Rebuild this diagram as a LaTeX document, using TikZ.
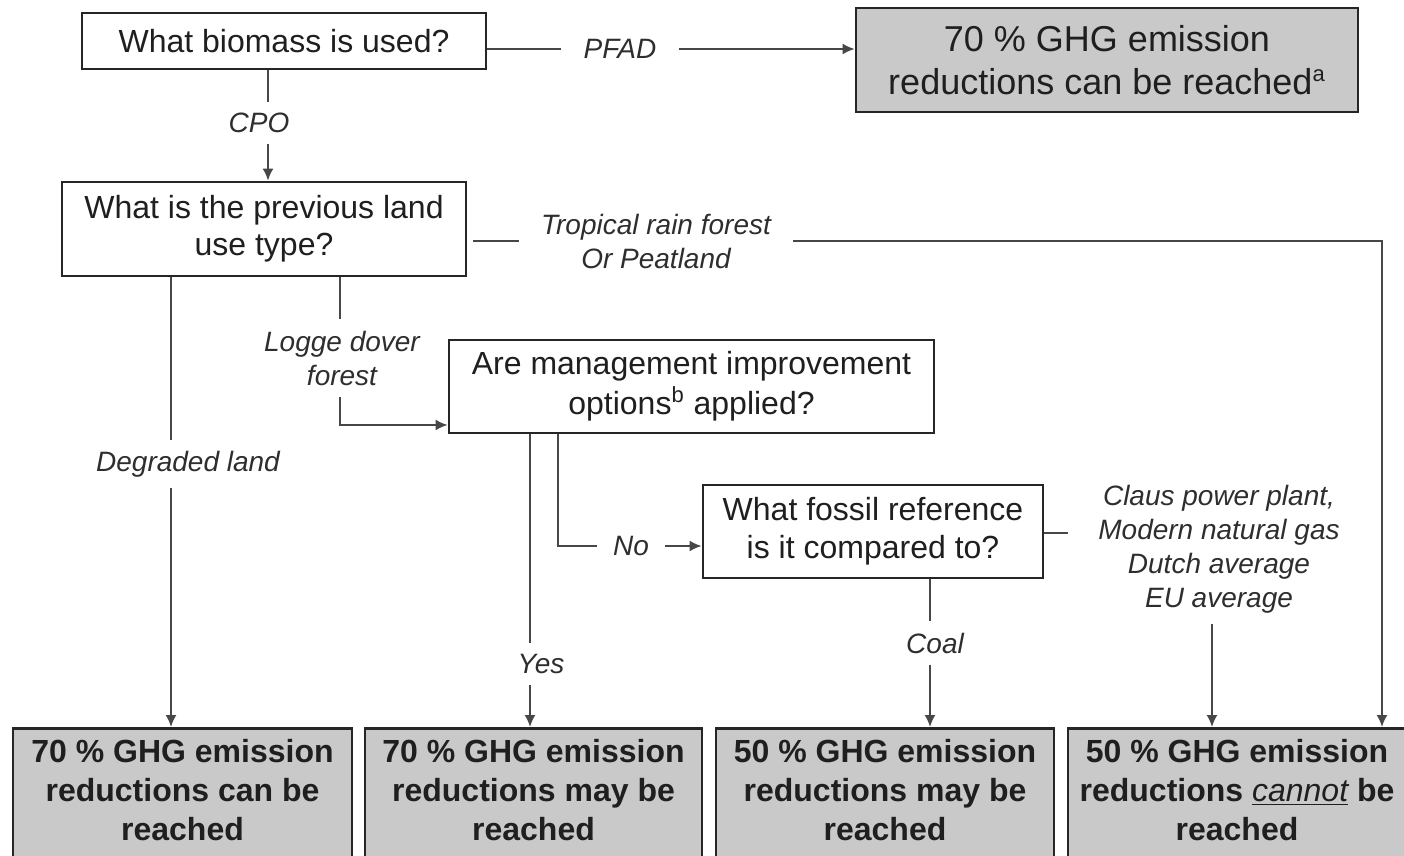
\documentclass[tikz,border=0pt]{standalone}
\usepackage{fontspec}
\setmainfont{Liberation Sans}
\usetikzlibrary{arrows.meta}
\newcommand{\supsc}[1]{\textsuperscript{\fontsize{11}{11}\selectfont #1}}
\begin{document}
\begin{tikzpicture}[x=0.5pt,y=-0.5pt,
  qbox/.style={draw=black!85, line width=1.4pt, fill=white, align=center, inner sep=0pt, font=\fontsize{16}{19}\selectfont, text=black!88},
  rbox/.style={draw=black!85, line width=1.4pt, fill=gray!42, inner sep=0pt},
  endtxt/.style={align=center, font=\fontsize{16}{19.3}\selectfont\bfseries, text=black!88},
  lab/.style={align=center, font=\fontsize{14}{17}\selectfont\itshape, text=black!82, inner xsep=11pt, inner ysep=5.5pt},
  conn/.style={draw=black!72, line width=0.9pt},
  arr/.style={conn, -{Latex[length=6pt,width=5.5pt]}},
]
\useasboundingbox (0,0) rectangle (1404,856);
\clip (0,0) rectangle (1404,856);

% question boxes
\node[qbox, minimum width=202pt, minimum height=28pt] (b1) at (284,41) {What biomass is used?};
\node[qbox, fill=gray!42, minimum width=251pt, minimum height=52pt, font=\fontsize{18}{21.5}\selectfont] (r1) at (1107,60) {70 \% GHG emission\\reductions can be reached\supsc{a}};
\node[qbox, minimum width=202pt, minimum height=47pt, font=\fontsize{16}{18.5}\selectfont] (b2) at (264,229) {What is the previous land\\use type?};
\node[qbox, minimum width=242.5pt, minimum height=46.5pt, font=\fontsize{16}{20}\selectfont] (b3) at (691.5,386.5) {Are management improvement\\options\supsc{b} applied?};
\node[qbox, minimum width=170pt, minimum height=46.5pt] (b4) at (873,531.5) {What fossil reference\\is it compared to?};

% result boxes
\node[rbox, anchor=north, minimum width=169.5pt, minimum height=80pt] (e1) at (182.5,727) {};
\node[rbox, anchor=north, minimum width=168.5pt, minimum height=80pt] (e2) at (533.5,727) {};
\node[rbox, anchor=north, minimum width=169pt, minimum height=80pt] (e3) at (885,727) {};
\node[rbox, anchor=north, minimum width=169pt, minimum height=80pt] (e4) at (1237,727) {};
\node[endtxt] (t1) at (182.5,790) {70 \% GHG emission\\reductions can be\\reached};
\node[endtxt] (t2) at (533.5,790) {70 \% GHG emission\\reductions may be\\reached};
\node[endtxt] (t3) at (885,790) {50 \% GHG emission\\reductions may be\\reached};
\node[endtxt] (t4) at (1237,790) {50 \% GHG emission\\reductions {\mdseries\itshape\underline{cannot}} be\\reached};

% labels
\node[lab] (pfad) at (620,49) {PFAD};
\node[lab] (cpo) at (259,123) {CPO};
\node[lab] (trop) at (656,241) {Tropical rain forest\\Or Peatland};
\node[lab] (dg) at (188,464) {Degraded land};
\node[lab] (lg) at (342,358) {Logge dover\\forest};
\node[lab, inner xsep=8pt] (no) at (631,546) {No};
\node[lab] (yes) at (541,664) {Yes};
\node[lab] (coal) at (935,643) {Coal};
\node[lab] (claus) at (1219,549) {Claus power plant,\\Modern natural gas\\Dutch average\\EU average};

% helper coordinates
\coordinate (xcpo) at (268,0);
\coordinate (tc) at (1382,241);
\coordinate (xdg) at (171,0);
\coordinate (xlg) at (340,425);
\coordinate (xyes) at (530,0);
\coordinate (noc) at (558,546);
\coordinate (xcoal) at (930,0);
\coordinate (cs) at (1068,533);
\coordinate (xcl) at (1212,0);

% connectors
\draw[conn] (b1.east |- pfad) -- (pfad);
\draw[arr] (pfad) -- (r1.west |- pfad);

\draw[conn] (b1.south -| xcpo) -- (cpo.north -| xcpo);
\draw[arr] (cpo.south -| xcpo) -- (b2.north -| xcpo);

\draw[conn] ([xshift=3pt]b2.east |- trop) -- (trop);
\draw[arr] (trop) -- (tc) -- (tc |- e4.north);

\draw[conn] (b2.south -| xdg) -- (dg.north -| xdg);
\draw[arr] (dg.south -| xdg) -- (e1.north -| xdg);

\draw[conn] (b2.south -| xlg) -- (lg.north -| xlg);
\draw[arr] (lg.south -| xlg) -- (xlg) -- (xlg -| b3.west);

\draw[conn] (b3.south -| xyes) -- (yes.north -| xyes);
\draw[arr] (yes.south -| xyes) -- (e2.north -| xyes);

\draw[conn] (b3.south -| noc) -- (noc) -- (no);
\draw[arr] (no) -- (no -| b4.west);

\draw[conn] (b4.south -| xcoal) -- (coal.north -| xcoal);
\draw[arr] (coal.south -| xcoal) -- (e3.north -| xcoal);

\draw[conn] (b4.east |- cs) -- (cs);
\draw[arr] (claus.south -| xcl) -- (e4.north -| xcl);
\end{tikzpicture}
\end{document}
